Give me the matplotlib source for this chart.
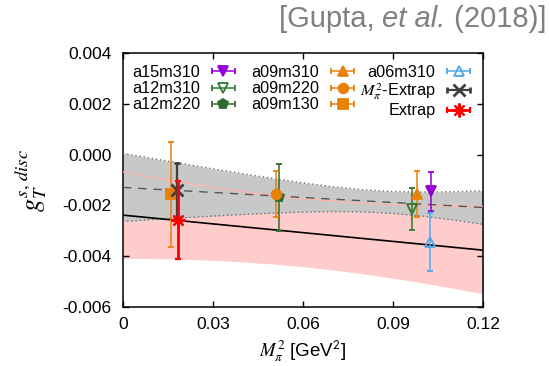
import numpy as np
import matplotlib
matplotlib.use("Agg")
import matplotlib.pyplot as plt
from matplotlib.container import ErrorbarContainer
from matplotlib.legend_handler import HandlerErrorbar

plt.rcParams['font.family'] = ['Liberation Sans', 'DejaVu Sans']
plt.rcParams['mathtext.fontset'] = 'stix'
plt.rcParams['axes.unicode_minus'] = False

# lattice ensembles: M_pi^2 [GeV^2], g_T^{s,disc}, error
ens_names = ['a15m310', 'a12m310', 'a12m220', 'a09m310', 'a09m220', 'a09m130', 'a06m310']
ens_x = [0.1026, 0.0963, 0.0521, 0.0981, 0.0510, 0.0159, 0.1023]
ens_y = [-0.00144, -0.00214, -0.00168, -0.00156, -0.00155, -0.00156, -0.003435]
ens_err = [0.00077, 0.00084, 0.00131, 0.00090, 0.00090, 0.00207, 0.00115]

# extrapolated values at the physical point
mpi_extrap = (0.0179, -0.00139, 0.00107)
full_extrap = (0.0184, -0.002575, 0.00155)

# fit bands
band_x = [0.00, 0.01, 0.02, 0.03, 0.04, 0.05, 0.06, 0.07, 0.08, 0.09, 0.10, 0.11, 0.12]
mpi_mid = [-0.001290, -0.001356, -0.001422, -0.001487, -0.001553, -0.001619, -0.001685,
           -0.001751, -0.001816, -0.001882, -0.001948, -0.002014, -0.002080]
mpi_hi = [0.00005, -0.000155, -0.000358, -0.000557, -0.000752, -0.000938, -0.001112,
          -0.001264, -0.001381, -0.001451, -0.001473, -0.001457, -0.001418]
mpi_lo = [-0.00263, -0.002557, -0.002486, -0.002417, -0.002354, -0.002300, -0.002258,
          -0.002238, -0.002251, -0.002313, -0.002423, -0.002571, -0.002742]
ext_mid = [-0.002380, -0.002495, -0.002610, -0.002725, -0.002840, -0.002955, -0.003070,
           -0.003185, -0.003300, -0.003415, -0.003530, -0.003645, -0.003760]
ext_hi = [-0.00068, -0.000898, -0.001102, -0.001289, -0.001458, -0.001605, -0.00173,
          -0.001831, -0.00191, -0.001968, -0.002007, -0.00203, -0.00204]
ext_lo = [-0.00408, -0.004092, -0.004118, -0.004161, -0.004222, -0.004305, -0.00441,
          -0.004539, -0.00469, -0.004862, -0.005053, -0.00526, -0.00548]

x_ticks = [0, 0.03, 0.06, 0.09, 0.12]
x_ticklabels = ['0', '0.03', '0.06', '0.09', '0.12']
y_ticks = [-0.006, -0.004, -0.002, 0.000, 0.002, 0.004]

styles = {
    'a15m310': dict(color='#9400d3', marker='v', mfc='#9400d3'),
    'a12m310': dict(color='#2f7a2f', marker='v', mfc='none'),
    'a12m220': dict(color='#2f6b2f', marker='p', mfc='#2f6b2f'),
    'a09m310': dict(color='#e8800a', marker='^', mfc='#e8800a'),
    'a09m220': dict(color='#e8800a', marker='o', mfc='#e8800a'),
    'a09m130': dict(color='#e8800a', marker='s', mfc='#e8800a'),
    'a06m310': dict(color='#4ea8e8', marker='^', mfc='none'),
}

fig = plt.figure(figsize=(5.49, 3.66), dpi=100)
ax = fig.add_axes([0.224, 0.161, 0.656, 0.694])

# bands
ax.fill_between(band_x, ext_lo, ext_hi, color='#ffcccc', lw=0, zorder=1)
ax.fill_between(band_x, mpi_lo, mpi_hi, color='#c8c8c8', lw=0, zorder=2)
ax.plot(band_x, mpi_hi, ls=(0, (1, 2)), color='#707070', lw=1.0, zorder=3)
ax.plot(band_x, mpi_lo, ls=(0, (1, 2)), color='#707070', lw=1.0, zorder=3)
ax.plot(band_x, ext_hi, color='#ffb4b4', lw=1.0, zorder=3)
ax.plot(band_x, ext_mid, color='black', lw=1.2, zorder=3)
ax.plot(band_x, mpi_mid, color='#555555', lw=1.0, ls=(0, (6, 5)), zorder=3)

handles = []
for name, x, y, e in zip(ens_names, ens_x, ens_y, ens_err):
    st = styles[name]
    c = ax.errorbar([x], [y], yerr=[e], ls='none', marker=st['marker'], color=st['color'],
                    mfc=st['mfc'], mec=st['color'], ms=7, mew=1.3, elinewidth=1.1,
                    capsize=2.2, capthick=1.1, zorder=5)
    handles.append(ErrorbarContainer(c.lines, has_xerr=True, has_yerr=False, label=name))

c = ax.errorbar([mpi_extrap[0]], [mpi_extrap[1]], yerr=[mpi_extrap[2]], ls='none', marker='x',
                color='#404040', ms=9, mew=2.0, elinewidth=1.6, capsize=2.2, capthick=1.6,
                zorder=6)
handles.append(ErrorbarContainer(c.lines, has_xerr=True, has_yerr=False,
                                 label=r'$M_\pi^2$-Extrap'))
c = ax.errorbar([full_extrap[0]], [full_extrap[1]], yerr=[full_extrap[2]], ls='none',
                marker=(8, 2, 0), color='red', ms=10, mew=1.6, elinewidth=2.0, capsize=2.2,
                capthick=2.0, zorder=7)
handles.append(ErrorbarContainer(c.lines, has_xerr=True, has_yerr=False, label='Extrap'))

# key: two columns on the left, the last column placed on its own
key_opts = dict(bbox_transform=fig.transFigure, frameon=False, markerfirst=False,
                fontsize=11.7, handlelength=1.42, handletextpad=0.74, columnspacing=1.0,
                labelspacing=0.07, borderpad=0, borderaxespad=0,
                handler_map={ErrorbarContainer: HandlerErrorbar(xerr_size=0.71)})
leg1 = ax.legend(handles=handles[:6], ncol=2, loc='upper left',
                 bbox_to_anchor=(0.240, 0.822), **key_opts)
ax.add_artist(leg1)
ax.legend(handles=handles[6:], ncol=1, loc='upper right',
          bbox_to_anchor=(0.857, 0.822), **key_opts)

ax.set_xlim(0, 0.12)
ax.set_ylim(-0.006, 0.004)
ax.set_xticks(x_ticks)
ax.set_xticklabels(x_ticklabels)
ax.set_yticks(y_ticks)
ax.yaxis.set_major_formatter(matplotlib.ticker.FormatStrFormatter('%.3f'))
ax.tick_params(direction='in', length=4, width=1, top=True, right=True, labelsize=12.5)
ax.tick_params(axis='y', pad=8)
ax.tick_params(axis='x', pad=7)
for sp in ax.spines.values():
    sp.set_linewidth(1.1)

ax.set_xlabel(r'$M_\pi^2$ [GeV$^{\mathsf{2}}$]', fontsize=13.5, labelpad=5)
ax.set_ylabel(r'$g_T^{s,\,disc}$', fontsize=19, labelpad=10)

# citation, built right to left so it ends near the right edge
t3 = fig.text(0.995, 0.925, ' (2018)]', fontsize=21, color='#808080', ha='right', va='baseline')
t2 = ax.annotate('et al.', xy=(0, 0), xycoords=t3, fontsize=21, color='#808080',
                 style='italic', ha='right', va='bottom')
ax.annotate('[Gupta, ', xy=(0, 0), xycoords=t2, fontsize=21, color='#808080',
            ha='right', va='bottom')

fig.savefig('out.png', dpi=100)
